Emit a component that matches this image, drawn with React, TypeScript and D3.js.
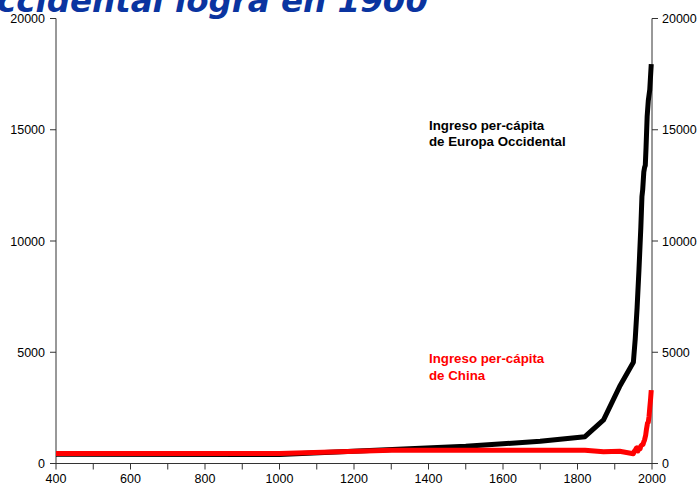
import React from "react";
import * as d3 from "d3";

const europeYears = [400, 1000, 1500, 1600, 1700, 1820, 1870, 1913, 1950, 1955, 1960, 1965, 1970, 1973, 1975, 1978, 1980, 1982, 1984, 1987, 1990, 1994, 1998];
const europeValues = [420, 400, 771, 889, 997, 1204, 1960, 3457, 4550, 5600, 7000, 8700, 10600, 12000, 12300, 13100, 13300, 13400, 14200, 15600, 16300, 16800, 17950];

const chinaYears = [400, 1000, 1300, 1500, 1700, 1820, 1870, 1913, 1950, 1952, 1956, 1958, 1959, 1960, 1961, 1962, 1965, 1967, 1968, 1970, 1973, 1976, 1978, 1980, 1983, 1985, 1988, 1990, 1992, 1994, 1996, 1998];
const chinaValues = [450, 450, 600, 600, 600, 600, 530, 552, 440, 540, 620, 690, 700, 680, 560, 560, 700, 700, 660, 780, 840, 860, 980, 1060, 1270, 1520, 1820, 1860, 2100, 2500, 2850, 3300];

const yTicks = [0, 5000, 10000, 15000, 20000];
const xMinorTicks = d3.range(400, 2001, 100);
const xLabelTicks = [400, 600, 800, 1000, 1200, 1400, 1600, 1800, 2000];

const titleText = "ccidental logra en 1900";
const europeLabel = ["Ingreso per-cápita", "de Europa Occidental"];
const chinaLabel = ["Ingreso per-cápita", "de China"];

export default function App() {
  const W = 697, H = 489;
  const x = d3.scaleLinear().domain([400, 2000]).range([56, 652]);
  const y = d3.scaleLinear().domain([0, 20000]).range([463.5, 18.5]);
  const line = d3.line<[number, number]>().x(d => x(d[0])).y(d => y(d[1]));
  const europe = europeYears.map((yr, i) => [yr, europeValues[i]] as [number, number]);
  const china = chinaYears.map((yr, i) => [yr, chinaValues[i]] as [number, number]);
  const font = "Liberation Sans, Arial, sans-serif";
  const axisColor = "#333";
  const x0 = x(400), x1 = x(2000), yb = y(0), yt = y(20000);

  return (
    <svg width={W} height={H} style={{ position: "absolute", left: 0, top: 0, background: "#fff" }} fontFamily={font}>
      <text x={-3} y={12} fontSize={32.5} fontStyle="italic" fontWeight="bold" fill="#0a34a0" fontFamily="DejaVu Sans, sans-serif">{titleText}</text>

      <line x1={x0} x2={x0} y1={yt} y2={yb} stroke={axisColor} strokeWidth={1} />
      <line x1={x1} x2={x1} y1={yt} y2={yb} stroke={axisColor} strokeWidth={1} />
      <line x1={x0} x2={x1} y1={yb} y2={yb} stroke={axisColor} strokeWidth={1} />
      {yTicks.map(t => (
        <g key={"y" + t}>
          <line x1={x0 - 6} x2={x0} y1={y(t)} y2={y(t)} stroke={axisColor} />
          <line x1={x1} x2={x1 + 6} y1={y(t)} y2={y(t)} stroke={axisColor} />
          <text x={x0 - 11} y={y(t) + 4.5} fontSize={12.5} textAnchor="end" fill="#000">{t}</text>
          <text x={x1 + 10} y={y(t) + 4.5} fontSize={12.5} textAnchor="start" fill="#000">{t}</text>
        </g>
      ))}
      {xMinorTicks.map(t => (
        <line key={"xt" + t} x1={x(t)} x2={x(t)} y1={yb} y2={yb + 6} stroke={axisColor} />
      ))}
      {xLabelTicks.map(t => (
        <text key={"xl" + t} x={x(t)} y={yb + 19} fontSize={12.5} textAnchor="middle" fill="#000">{t}</text>
      ))}

      <path d={line(europe) || ""} fill="none" stroke="#000" strokeWidth={5} strokeLinejoin="round" />
      <path d={line(china) || ""} fill="none" stroke="#ff0000" strokeWidth={5} strokeLinejoin="round" />

      <text fontSize={13.3} fontWeight="bold" fill="#000">
        <tspan x={429} y={130}>{europeLabel[0]}</tspan>
        <tspan x={429} y={146}>{europeLabel[1]}</tspan>
      </text>
      <text fontSize={13.3} fontWeight="bold" fill="#ff0000">
        <tspan x={429} y={363}>{chinaLabel[0]}</tspan>
        <tspan x={429} y={380}>{chinaLabel[1]}</tspan>
      </text>
    </svg>
  );
}
